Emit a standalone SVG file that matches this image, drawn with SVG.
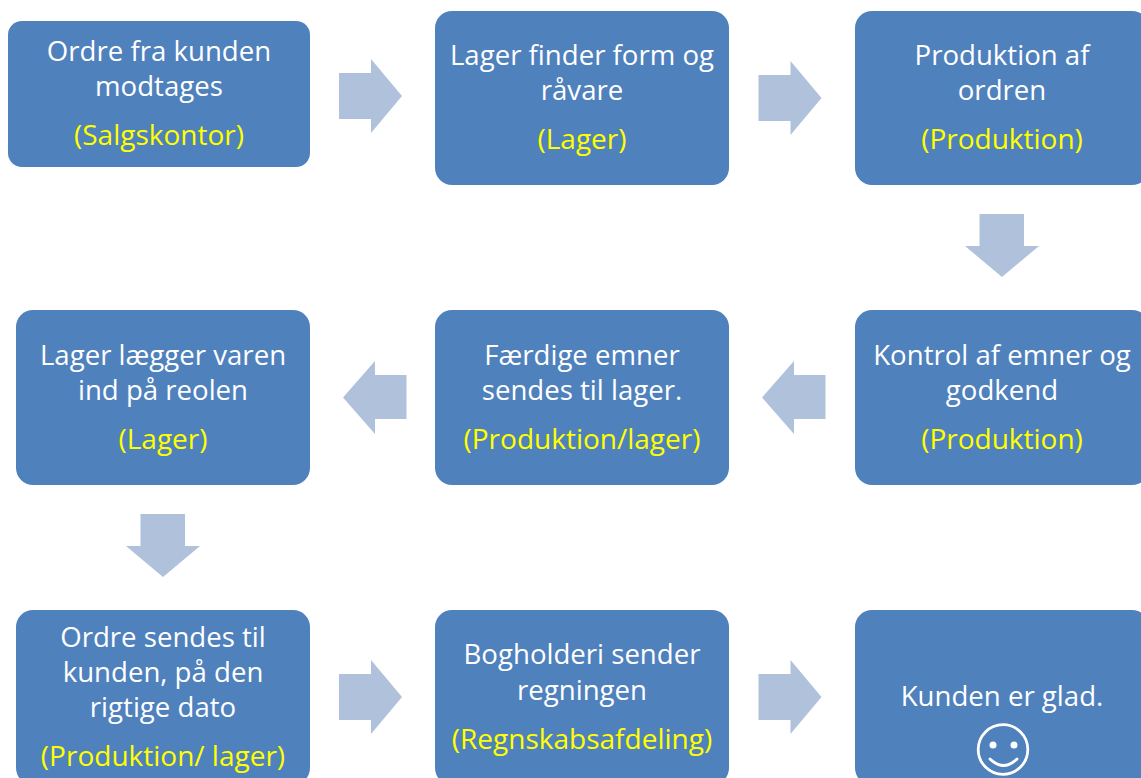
<svg xmlns="http://www.w3.org/2000/svg" width="1141" height="778" viewBox="0 0 1141 778">
<style>
.n{fill:#4f81bd}
.a{fill:#b0c1dc}
text{font-family:"Open Sans","Noto Sans",sans-serif;font-size:27.6px;fill:#fff;text-anchor:middle}
text.y{fill:#ffff00;font-size:28px}
</style>
<defs>
<path id="r" class="a" d="M0 14H32V0L63 37 32 74V60H0Z"/>
<path id="l" class="a" d="M63.500 14H32V0L0 36.500 32 73V58H63.500Z"/>
<path id="d" class="a" d="M14.500 0H59V32H74L37 63 0 32H14.500Z"/>
</defs>
<rect width="1141" height="778" fill="#fff"/>
<g id="connectors">
<use href="#r" x="339" y="59"/>
<use href="#r" x="758.500" y="61"/>
<use href="#d" x="965" y="214"/>
<use href="#l" x="762" y="361"/>
<use href="#l" x="343" y="361"/>
<use href="#d" x="126" y="514"/>
<use href="#r" x="339" y="660"/>
<use href="#r" x="758.500" y="660"/>
</g>
<g id="n1"><rect class="n" x="8" y="21" width="302" height="146" rx="14"/><text x="159" y="61">Ordre fra kunden</text><text x="159" y="96">modtages</text><text class="y" x="159" y="145">(Salgskontor)</text></g>
<g id="n2"><rect class="n" x="435" y="11" width="294" height="174" rx="17"/><text x="582" y="65">Lager finder form og</text><text x="582" y="100">råvare</text><text class="y" x="582" y="149">(Lager)</text></g>
<g id="n3"><rect class="n" x="855" y="11" width="294" height="174" rx="17"/><text x="1002" y="65">Produktion af</text><text x="1002" y="100">ordren</text><text class="y" x="1002" y="149">(Produktion)</text></g>
<g id="n4"><rect class="n" x="855" y="310" width="294" height="175" rx="17"/><text x="1002" y="365">Kontrol af emner og</text><text x="1002" y="400">godkend</text><text class="y" x="1002" y="449">(Produktion)</text></g>
<g id="n5"><rect class="n" x="435" y="310" width="294" height="175" rx="17"/><text x="582" y="365">Færdige emner</text><text x="582" y="400">sendes til lager.</text><text class="y" x="582" y="449">(Produktion/lager)</text></g>
<g id="n6"><rect class="n" x="16" y="310" width="294" height="175" rx="17"/><text x="163" y="365">Lager lægger varen</text><text x="163" y="400">ind på reolen</text><text class="y" x="163" y="449">(Lager)</text></g>
<g id="n7"><rect class="n" x="16" y="610" width="294" height="175" rx="17"/><text x="163" y="647">Ordre sendes til</text><text x="163" y="682">kunden, på den</text><text x="163" y="717">rigtige dato</text><text class="y" x="163" y="766">(Produktion/ lager)</text></g>
<g id="n8"><rect class="n" x="435" y="610" width="294" height="175" rx="17"/><text x="582" y="664">Bogholderi sender</text><text x="582" y="700">regningen</text><text class="y" x="582" y="749">(Regnskabsafdeling)</text></g>
<g id="n9"><rect class="n" x="855" y="610" width="294" height="175" rx="17"/><text x="1002" y="706">Kunden er glad.</text>
<g fill="none" stroke="#fff" stroke-width="2.800"><circle cx="1003" cy="749.500" r="24.800"/><path d="M990 759Q1003.500 772 1017 759" stroke-linecap="round"/></g><circle cx="993" cy="745" r="3.500" fill="#fff"/><circle cx="1014" cy="745" r="3.500" fill="#fff"/></g>
</svg>
